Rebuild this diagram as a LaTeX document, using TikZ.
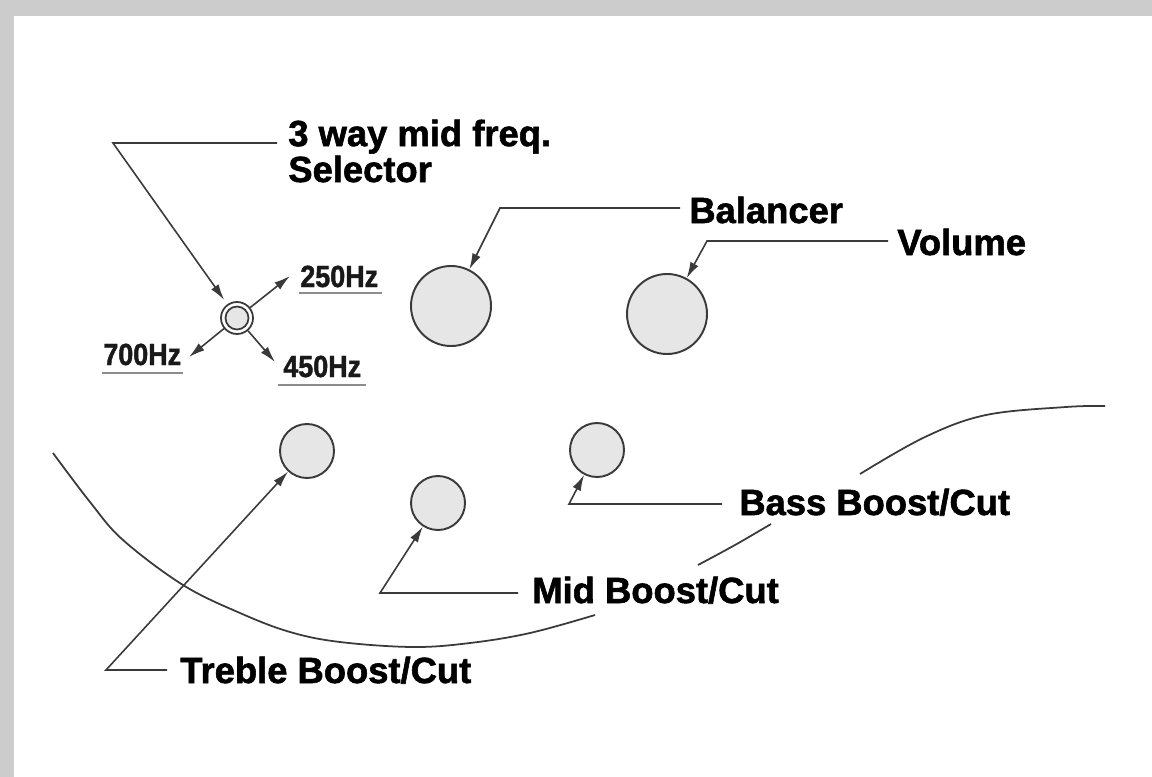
\documentclass[tikz,border=0pt]{standalone}
\usepackage{fontspec}
\setmainfont{Liberation Sans}[BoldFeatures={FakeBold=1.6}]
\newfontfamily\hzf{Liberation Sans}[FakeStretch=0.88,BoldFeatures={FakeBold=1.4}]
\usetikzlibrary{arrows.meta}
\definecolor{linec}{HTML}{3A3A3A}
\definecolor{knobf}{HTML}{E6E6E6}
\definecolor{framec}{HTML}{CCCCCC}
\definecolor{ulc}{HTML}{8C8C8C}
\tikzset{
  big/.style={anchor=base west,inner sep=0pt,font=\fontsize{20.7}{18.14}\selectfont\bfseries,text=black},
  hz/.style={anchor=base west,inner sep=0pt,font=\hzf\fontsize{17.4}{19}\selectfont\bfseries,text=black!90},
  knob/.style={circle,draw=linec,line width=1.1pt,fill=knobf,inner sep=0pt,minimum size=#1},
  lead/.style={draw=linec,line width=0.9pt},
  arr/.style={lead,-{Latex[length=0.32cm,width=0.18cm]}},
  body/.style={draw=linec,line width=1pt},
  ul/.style={draw=ulc,line width=1.1pt}
}
\begin{document}
\begin{tikzpicture}[x=0.02cm,y=-0.02cm]
\useasboundingbox (0,0) rectangle (1152,777);
\fill[framec] (0,0) rectangle (1152,777);
\fill[white] (14,16) rectangle (1152,777);

% body outline
\draw[body] plot[smooth,tension=0.6] coordinates {(53,453) (90,502) (123,540) (183,585) (240,613) (290,632) (340,642) (413,647) (470,643) (530,633) (595,615)};
\draw[body] plot[smooth,tension=0.6] coordinates {(698,565) (735,545) (771,524)};
\draw[body] plot[smooth,tension=0.6] coordinates {(860,474) (925,437) (986,415) (1066,407) (1105,406)};

% knobs
\node[knob=80*0.02cm] (bal) at (451,306) {};
\node[knob=80*0.02cm] (vol) at (667,314) {};
\node[knob=54*0.02cm] (tre) at (307,451) {};
\node[knob=54*0.02cm] (mid) at (438,503) {};
\node[knob=54*0.02cm] (bas) at (597,450) {};

% selector switch
\node[circle,draw=linec,line width=1pt,fill=white,inner sep=0pt,minimum size=32*0.02cm] (sel) at (237,318) {};
\node[circle,draw=linec,line width=1pt,fill=knobf,inner sep=0pt,minimum size=23*0.02cm] (selin) at (237,318) {};

% labels
\node[big] (selT) at (288,182) {\begin{tabular}[b]{@{}l@{}}3 way mid freq.\\Selector\end{tabular}};
\node[big] (balT) at (689,223) {Balancer};
\node[big] (volT) at (897,255) {Volume};
\node[big] (basT) at (739,515) {Bass Boost/Cut};
\node[big] (midT) at (532,603) {Mid Boost/Cut};
\node[big] (treT) at (180,683) {Treble Boost/Cut};

\node[hz] (h250) at (300,287) {250Hz};
\node[hz] (h700) at (103,365) {700Hz};
\node[hz] (h450) at (283,377) {450Hz};
\draw[ul] ([xshift=-1*0.02cm,yshift=-6*0.02cm]h250.base west) -- ([xshift=4*0.02cm,yshift=-6*0.02cm]h250.base east);
\draw[ul] ([xshift=-1*0.02cm,yshift=-8*0.02cm]h700.base west) -- ([xshift=2*0.02cm,yshift=-8*0.02cm]h700.base east);
\draw[ul] ([xshift=-5*0.02cm,yshift=-8*0.02cm]h450.base west) -- ([xshift=5*0.02cm,yshift=-8*0.02cm]h450.base east);

% corners and tips
\coordinate (cSel) at (113,143);
\coordinate (cBal) at (500,208);
\coordinate (cVol) at (707,241);
\coordinate (cBas) at (569,504);
\coordinate (cMid) at (380,593);
\coordinate (cTre) at (106,670);
\coordinate (t250) at (290,276);
\coordinate (t700) at (189,357);
\coordinate (t450) at (275,362);

% leaders
\draw[arr,shorten >=3pt] ([xshift=-11*0.02cm]selT.west |- 0,143) -- (cSel) -- (sel);
\draw[arr] ([xshift=-9*0.02cm]balT.west |- 0,208) -- (cBal) -- (bal);
\draw[arr] ([xshift=-9*0.02cm]volT.west |- 0,241) -- (cVol) -- (vol);
\draw[arr] ([xshift=-17*0.02cm]basT.west |- 0,504) -- (cBas) -- (bas);
\draw[arr] ([xshift=-14*0.02cm]midT.west |- 0,593) -- (cMid) -- (mid);
\draw[arr] ([xshift=-13*0.02cm]treT.west |- 0,670) -- (cTre) -- (tre);

% selector positions
\draw[arr] (sel) -- (t250);
\draw[arr] (sel) -- (t700);
\draw[arr] (sel) -- (t450);
\end{tikzpicture}
\end{document}
